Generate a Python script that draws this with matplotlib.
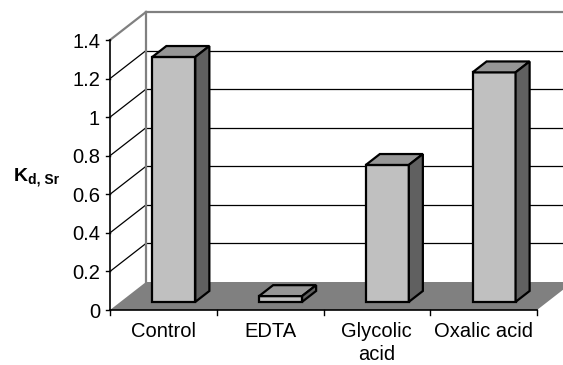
import matplotlib.pyplot as plt
from matplotlib.patches import Polygon
from matplotlib.lines import Line2D
from matplotlib.transforms import IdentityTransform, offset_copy

categories = ['Control', 'EDTA', 'Glycolic\nacid', 'Oxalic acid']
kd_values = [1.27, 0.03, 0.71, 1.19]
y_ticks = [0, 0.2, 0.4, 0.6, 0.8, 1, 1.2, 1.4]
y_tick_labels = ['0', '0.2', '0.4', '0.6', '0.8', '1', '1.2', '1.4']

plt.rcParams['font.family'] = 'Liberation Sans'

W, H = 563, 365
fig = plt.figure(figsize=(W / 100, H / 100), dpi=100)
ax = fig.add_axes([110 / W, 55 / H, 427 / W, 270 / H])
ax.set_xlim(0, len(categories))
ax.set_ylim(0, 1.4)
ax.axis('off')

# depth of the box in pixels
DX, DY = 36, 28
ident = IdentityTransform()


def proj(x, y, d=0.0):
    px, py = ax.transData.transform((x, y))
    return (px + d * DX, py + d * DY)


def face(pts, fc, ec='none', lw=1.5, z=1):
    ax.add_patch(Polygon(pts, closed=True, facecolor=fc, edgecolor=ec, lw=lw,
                         transform=ident, clip_on=False, zorder=z,
                         joinstyle='miter'))


def seg(p, q, color='black', lw=1.0, z=2):
    ax.add_line(Line2D([p[0], q[0]], [p[1], q[1]], color=color, lw=lw,
                       transform=ident, clip_on=False, zorder=z))


n = len(categories)
top = y_ticks[-1]

# walls
face([proj(0, 0, 1), proj(n, 0, 1), proj(n, top, 1), proj(0, top, 1)], 'white', z=0)
face([proj(0, 0, 0), proj(0, 0, 1), proj(0, top, 1), proj(0, top, 0)], 'white', z=0)

# gridlines on back wall and side wall
for t in y_ticks[1:-1]:
    seg(proj(0, t, 1), proj(n, t, 1), 'black', 0.9, z=1)
    seg(proj(0, t, 0), proj(0, t, 1), 'black', 0.9, z=1)
seg(proj(0, top, 1), proj(n, top, 1), '#808080', 1.6, z=1)
seg(proj(0, top, 0), proj(0, top, 1), '#808080', 1.6, z=1)
seg(proj(0, 0, 1), proj(0, top, 1), '#808080', 1.6, z=1)

# floor
face([proj(0, 0, 0), proj(n, 0, 0), proj(n, 0, 1), proj(0, 0, 1)], '#808080', z=2)

# bars
bw = 0.403
d0, d1 = 0.29, 0.68
for i, v in enumerate(kd_values):
    x0 = i + 0.5 - bw / 2
    x1 = x0 + bw
    face([proj(x0, 0, d0), proj(x1, 0, d0), proj(x1, v, d0), proj(x0, v, d0)],
         '#c0c0c0', 'black', 1.6, z=3)
    face([proj(x0, v, d0), proj(x1, v, d0), proj(x1, v, d1), proj(x0, v, d1)],
         '#969696', 'black', 1.6, z=3)
    face([proj(x1, 0, d0), proj(x1, 0, d1), proj(x1, v, d1), proj(x1, v, d0)],
         '#606060', 'black', 1.6, z=3)

# front axes
seg(proj(0, 0), proj(n, 0), 'black', 1.2, z=4)
seg(proj(0, 0), proj(0, top), 'black', 1.2, z=4)
for t in y_ticks:
    p = proj(0, t)
    seg((p[0] - 4, p[1]), p, 'black', 1.0, z=4)
for i in range(n + 1):
    p = proj(i, 0)
    seg(p, (p[0], p[1] - 5), 'black', 1.0, z=4)

ytrans = offset_copy(ax.transData, fig=fig, x=-10, y=-2, units='dots')
for t, lab in zip(y_ticks, y_tick_labels):
    ax.text(0, t, lab, transform=ytrans, ha='right', va='center', fontsize=14.5)

xtrans = offset_copy(ax.transData, fig=fig, x=0, y=-12, units='dots')
for i, cat in enumerate(categories):
    ax.text(i + 0.5, 0, cat, transform=xtrans, ha='center', va='top',
            fontsize=14.5, linespacing=1.3)

# axis title K_d,Sr
fig.text(14 / W, 1 - 181 / H, 'K', fontsize=14, fontweight='bold',
         ha='left', va='baseline')
fig.text(28 / W, 1 - 183 / H, 'd, Sr', fontsize=10, fontweight='bold',
         ha='left', va='baseline')

fig.savefig('out.png', dpi=100)
